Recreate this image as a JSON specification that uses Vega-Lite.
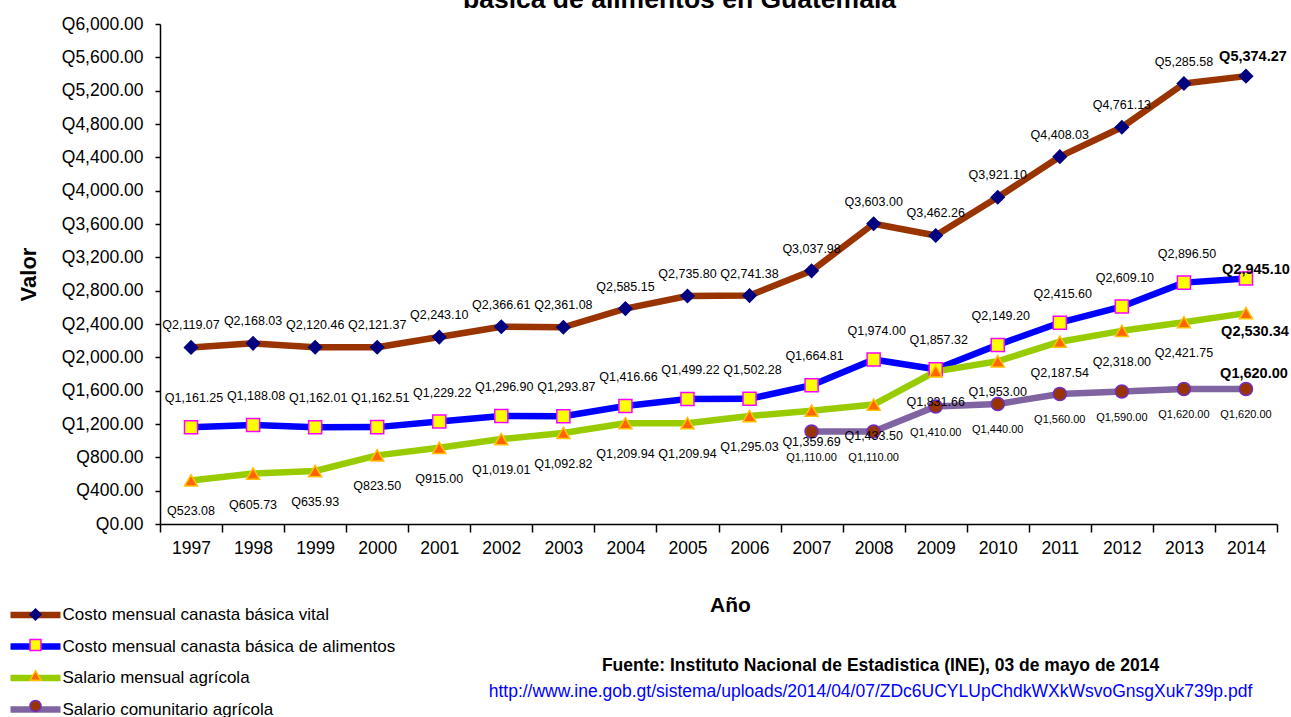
{
  "$schema": "https://vega.github.io/schema/vega-lite/v6.json",
  "autosize": {"type": "none"},
  "padding": {"left": 160, "top": 24, "right": 14, "bottom": 193},
  "width": 1117,
  "height": 500,
  "background": "white",
  "config": {
    "font": "Liberation Sans, Arial, sans-serif",
    "view": {"stroke": null},
    "locale": {"number": {"decimal": ".", "thousands": ",", "grouping": [3], "currency": ["Q", ""]}},
    "axis": {"domainColor": "#000000", "tickColor": "#000000", "labelColor": "#000000", "titleColor": "#000000", "grid": false, "domainWidth": 1.5, "tickWidth": 1.5, "titleLimit": 2000}
  },
  "data": {"values": [
    {"year": "1997", "serie": "Costo mensual canasta básica vital", "valor": 2119.07},
    {"year": "1998", "serie": "Costo mensual canasta básica vital", "valor": 2168.03},
    {"year": "1999", "serie": "Costo mensual canasta básica vital", "valor": 2120.46},
    {"year": "2000", "serie": "Costo mensual canasta básica vital", "valor": 2121.37},
    {"year": "2001", "serie": "Costo mensual canasta básica vital", "valor": 2243.10},
    {"year": "2002", "serie": "Costo mensual canasta básica vital", "valor": 2366.61},
    {"year": "2003", "serie": "Costo mensual canasta básica vital", "valor": 2361.08},
    {"year": "2004", "serie": "Costo mensual canasta básica vital", "valor": 2585.15},
    {"year": "2005", "serie": "Costo mensual canasta básica vital", "valor": 2735.80},
    {"year": "2006", "serie": "Costo mensual canasta básica vital", "valor": 2741.38},
    {"year": "2007", "serie": "Costo mensual canasta básica vital", "valor": 3037.98},
    {"year": "2008", "serie": "Costo mensual canasta básica vital", "valor": 3603.00},
    {"year": "2009", "serie": "Costo mensual canasta básica vital", "valor": 3462.26},
    {"year": "2010", "serie": "Costo mensual canasta básica vital", "valor": 3921.10},
    {"year": "2011", "serie": "Costo mensual canasta básica vital", "valor": 4408.03},
    {"year": "2012", "serie": "Costo mensual canasta básica vital", "valor": 4761.13},
    {"year": "2013", "serie": "Costo mensual canasta básica vital", "valor": 5285.58},
    {"year": "2014", "serie": "Costo mensual canasta básica vital", "valor": 5374.27},
    {"year": "1997", "serie": "Costo mensual canasta básica de alimentos", "valor": 1161.25},
    {"year": "1998", "serie": "Costo mensual canasta básica de alimentos", "valor": 1188.08},
    {"year": "1999", "serie": "Costo mensual canasta básica de alimentos", "valor": 1162.01},
    {"year": "2000", "serie": "Costo mensual canasta básica de alimentos", "valor": 1162.51},
    {"year": "2001", "serie": "Costo mensual canasta básica de alimentos", "valor": 1229.22},
    {"year": "2002", "serie": "Costo mensual canasta básica de alimentos", "valor": 1296.90},
    {"year": "2003", "serie": "Costo mensual canasta básica de alimentos", "valor": 1293.87},
    {"year": "2004", "serie": "Costo mensual canasta básica de alimentos", "valor": 1416.66},
    {"year": "2005", "serie": "Costo mensual canasta básica de alimentos", "valor": 1499.22},
    {"year": "2006", "serie": "Costo mensual canasta básica de alimentos", "valor": 1502.28},
    {"year": "2007", "serie": "Costo mensual canasta básica de alimentos", "valor": 1664.81},
    {"year": "2008", "serie": "Costo mensual canasta básica de alimentos", "valor": 1974.00},
    {"year": "2009", "serie": "Costo mensual canasta básica de alimentos", "valor": 1857.32},
    {"year": "2010", "serie": "Costo mensual canasta básica de alimentos", "valor": 2149.20},
    {"year": "2011", "serie": "Costo mensual canasta básica de alimentos", "valor": 2415.60},
    {"year": "2012", "serie": "Costo mensual canasta básica de alimentos", "valor": 2609.10},
    {"year": "2013", "serie": "Costo mensual canasta básica de alimentos", "valor": 2896.50},
    {"year": "2014", "serie": "Costo mensual canasta básica de alimentos", "valor": 2945.10},
    {"year": "1997", "serie": "Salario mensual agrícola", "valor": 523.08},
    {"year": "1998", "serie": "Salario mensual agrícola", "valor": 605.73},
    {"year": "1999", "serie": "Salario mensual agrícola", "valor": 635.93},
    {"year": "2000", "serie": "Salario mensual agrícola", "valor": 823.50},
    {"year": "2001", "serie": "Salario mensual agrícola", "valor": 915.00},
    {"year": "2002", "serie": "Salario mensual agrícola", "valor": 1019.01},
    {"year": "2003", "serie": "Salario mensual agrícola", "valor": 1092.82},
    {"year": "2004", "serie": "Salario mensual agrícola", "valor": 1209.94},
    {"year": "2005", "serie": "Salario mensual agrícola", "valor": 1209.94},
    {"year": "2006", "serie": "Salario mensual agrícola", "valor": 1295.03},
    {"year": "2007", "serie": "Salario mensual agrícola", "valor": 1359.69},
    {"year": "2008", "serie": "Salario mensual agrícola", "valor": 1433.50},
    {"year": "2009", "serie": "Salario mensual agrícola", "valor": 1831.66},
    {"year": "2010", "serie": "Salario mensual agrícola", "valor": 1953.00},
    {"year": "2011", "serie": "Salario mensual agrícola", "valor": 2187.54},
    {"year": "2012", "serie": "Salario mensual agrícola", "valor": 2318.00},
    {"year": "2013", "serie": "Salario mensual agrícola", "valor": 2421.75},
    {"year": "2014", "serie": "Salario mensual agrícola", "valor": 2530.34},
    {"year": "2007", "serie": "Salario comunitario agrícola", "valor": 1110.00},
    {"year": "2008", "serie": "Salario comunitario agrícola", "valor": 1110.00},
    {"year": "2009", "serie": "Salario comunitario agrícola", "valor": 1410.00},
    {"year": "2010", "serie": "Salario comunitario agrícola", "valor": 1440.00},
    {"year": "2011", "serie": "Salario comunitario agrícola", "valor": 1560.00},
    {"year": "2012", "serie": "Salario comunitario agrícola", "valor": 1590.00},
    {"year": "2013", "serie": "Salario comunitario agrícola", "valor": 1620.00},
    {"year": "2014", "serie": "Salario comunitario agrícola", "valor": 1620.00}
  ]},
  "resolve": {"axis": {"x": "independent"}},
  "encoding": {
    "x": {"field": "year", "type": "ordinal", "scale": {"type": "band", "paddingInner": 0, "paddingOuter": 0}, "axis": null},
    "y": {"field": "valor", "type": "quantitative", "scale": {"domain": [0, 6000], "nice": false},
      "axis": {"title": "Valor", "values": [0, 400, 800, 1200, 1600, 2000, 2400, 2800, 3200, 3600, 4000, 4400, 4800, 5200, 5600, 6000], "format": "$,.2f", "tickSize": 5, "labelFontSize": 17.5, "labelPadding": 12, "titleFontSize": 22, "titleFontWeight": "bold", "titleX": -132, "titleY": 250, "titleAngle": 270, "titleAlign": "center", "titleBaseline": "middle"}}
  },
  "layer": [
    {
      "mark": {"type": "line", "strokeJoin": "round"},
      "encoding": {
        "x": {"field": "year", "type": "ordinal", "scale": {"type": "band", "paddingInner": 0, "paddingOuter": 0},
          "axis": {"orient": "bottom", "title": "Año", "tickBand": "extent", "tickSize": 8, "labelAngle": 0, "labelFontSize": 17.5, "labelPadding": 7, "titleFontSize": 21, "titleFontWeight": "bold", "titleX": 570, "titleY": 81, "titleAlign": "center", "titleBaseline": "middle"}},
        "color": {"field": "serie", "type": "nominal",
          "scale": {"domain": ["Costo mensual canasta básica vital", "Costo mensual canasta básica de alimentos", "Salario mensual agrícola", "Salario comunitario agrícola"], "range": ["#993300", "#0000FF", "#99CC00", "#8064A2"]},
          "legend": {"orient": "none", "legendX": -150, "legendY": 575, "title": null, "padding": 0, "symbolType": "M-2,0H2", "symbolSize": 625, "symbolStrokeWidth": 8, "symbolOffset": 9.5, "labelOffset": 11, "labelFontSize": 17, "labelLimit": 0, "labelColor": "#000000", "rowPadding": 2.5}},
        "strokeWidth": {"field": "serie", "type": "nominal",
          "scale": {"domain": ["Costo mensual canasta básica vital", "Costo mensual canasta básica de alimentos", "Salario mensual agrícola", "Salario comunitario agrícola"], "range": [6.5, 6.5, 6.5, 5]},
          "legend": null}
      }
    },
    {
      "mark": {"type": "point", "filled": true, "size": 170, "strokeWidth": 1.5, "opacity": 1},
      "encoding": {
        "shape": {"field": "serie", "type": "nominal", "sort": ["Costo mensual canasta básica vital", "Costo mensual canasta básica de alimentos", "Salario mensual agrícola", "Salario comunitario agrícola"],
          "scale": {"range": ["diamond", "square", "triangle-up", "circle"]},
          "legend": {"orient": "none", "legendX": -131, "legendY": 584, "title": null, "padding": 0, "labelExpr": "''", "labelFontSize": 1, "symbolSize": 120, "symbolStrokeWidth": 1.5, "symbolOpacity": 1, "rowPadding": 13.5,
            "symbolFillColor": {"expr": "scale('fill', datum.value)"},
            "symbolStrokeColor": {"expr": "scale('stroke', datum.value)"}}},
        "fill": {"field": "serie", "type": "nominal", "sort": ["Costo mensual canasta básica vital", "Costo mensual canasta básica de alimentos", "Salario mensual agrícola", "Salario comunitario agrícola"],
          "scale": {"range": ["#000080", "#FFFF00", "#FF6600", "#993300"]}, "legend": null},
        "stroke": {"field": "serie", "type": "nominal", "sort": ["Costo mensual canasta básica vital", "Costo mensual canasta básica de alimentos", "Salario mensual agrícola", "Salario comunitario agrícola"],
          "scale": {"range": ["#000080", "#FF00FF", "#FFC000", "#6F2FC0"]}, "legend": null}
      }
    },
    {
      "transform": [{"filter": "datum.serie === 'Costo mensual canasta básica vital' && datum.year !== '2014'"}],
      "mark": {"type": "text", "dy": -22, "fontSize": 12.5, "color": "#000000"},
      "encoding": {
        "x": {"field": "year", "type": "ordinal", "scale": {"type": "band", "paddingInner": 0, "paddingOuter": 0},
          "axis": {"orient": "bottom", "title": "Fuente:  Instituto Nacional de Estadistica (INE),   03 de mayo de 2014", "labels": false, "ticks": false, "domain": false, "titleFontSize": 17.5, "titleFontWeight": "bold", "titleX": 720, "titleY": 141, "titleAlign": "center", "titleBaseline": "middle", "titleAngle": 0}},
        "text": {"field": "valor", "type": "quantitative", "format": "$,.2f"}}
    },
    {
      "transform": [{"filter": "datum.serie === 'Costo mensual canasta básica de alimentos' && datum.year !== '2014'"}],
      "mark": {"type": "text", "dy": -29, "dx": 3, "fontSize": 12.5, "color": "#000000"},
      "encoding": {
        "x": {"field": "year", "type": "ordinal", "scale": {"type": "band", "paddingInner": 0, "paddingOuter": 0},
          "axis": {"orient": "bottom", "title": "http://www.ine.gob.gt/sistema/uploads/2014/04/07/ZDc6UCYLUpChdkWXkWsvoGnsgXuk739p.pdf", "labels": false, "ticks": false, "domain": false, "titleFontSize": 17.5, "titleFontWeight": "normal", "titleColor": "#0000FF", "titleX": 710, "titleY": 167, "titleAlign": "center", "titleBaseline": "middle", "titleAngle": 0}},
        "text": {"field": "valor", "type": "quantitative", "format": "$,.2f"}}
    },
    {
      "transform": [{"filter": "datum.serie === 'Salario mensual agrícola' && datum.year !== '2014'"}],
      "mark": {"type": "text", "dy": 31, "fontSize": 12.5, "color": "#000000"},
      "encoding": {"text": {"field": "valor", "type": "quantitative", "format": "$,.2f"}}
    },
    {
      "transform": [{"filter": "datum.serie === 'Salario comunitario agrícola'"}],
      "mark": {"type": "text", "dy": 26, "fontSize": 11, "color": "#000000"},
      "encoding": {"text": {"field": "valor", "type": "quantitative", "format": "$,.2f"}}
    },
    {
      "transform": [{"filter": "datum.serie === 'Costo mensual canasta básica vital' && datum.year === '2014'"}],
      "mark": {"type": "text", "dy": -19, "dx": 7, "fontSize": 14.5, "fontWeight": "bold", "color": "#000000"},
      "encoding": {
        "x": {"field": "year", "type": "ordinal", "scale": {"type": "band", "paddingInner": 0, "paddingOuter": 0},
          "axis": {"orient": "top", "title": "básica de alimentos en Guatemala", "labels": false, "ticks": false, "domain": false, "titleFontSize": 26.5, "titleFontWeight": "bold", "titleX": 519, "titleY": -17, "titleAlign": "center", "titleBaseline": "alphabetic", "titleAngle": 0}},
        "text": {"field": "valor", "type": "quantitative", "format": "$,.2f"}}
    },
    {
      "transform": [{"filter": "datum.serie === 'Costo mensual canasta básica de alimentos' && datum.year === '2014'"}],
      "mark": {"type": "text", "dy": -9, "dx": 10, "fontSize": 14.5, "fontWeight": "bold", "color": "#000000"},
      "encoding": {"text": {"field": "valor", "type": "quantitative", "format": "$,.2f"}}
    },
    {
      "transform": [{"filter": "datum.serie === 'Salario mensual agrícola' && datum.year === '2014'"}],
      "mark": {"type": "text", "dy": 19, "dx": 9, "fontSize": 14.5, "fontWeight": "bold", "color": "#000000"},
      "encoding": {"text": {"field": "valor", "type": "quantitative", "format": "$,.2f"}}
    },
    {
      "transform": [{"filter": "datum.serie === 'Salario comunitario agrícola' && datum.year === '2014'"}],
      "mark": {"type": "text", "dy": -15, "dx": 8, "fontSize": 14.5, "fontWeight": "bold", "color": "#000000"},
      "encoding": {"text": {"field": "valor", "type": "quantitative", "format": "$,.2f"}}
    }
  ]
}
